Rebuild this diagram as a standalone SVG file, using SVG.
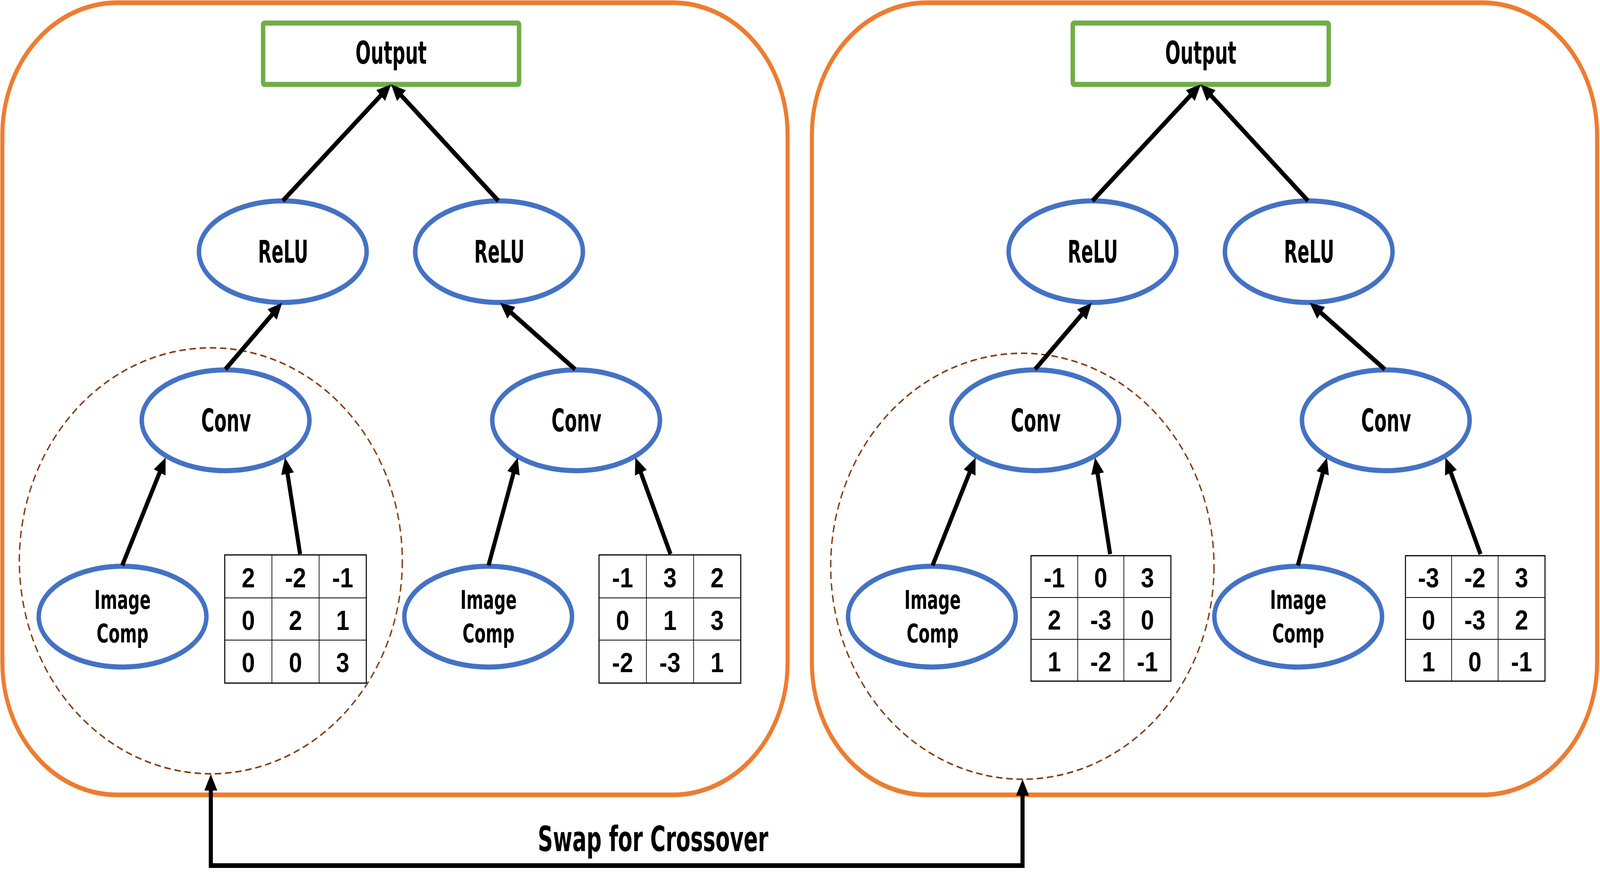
<svg xmlns="http://www.w3.org/2000/svg" width="4713" height="2257" viewBox="0 0 4713 2257" preserveAspectRatio="none" style="width:100vw;height:100vh;display:block">
<style>
.panel{fill:none;stroke:#ED7D31;stroke-width:12}
.group{fill:none;stroke:#843C0C;stroke-width:4;stroke-dasharray:19 11}
.out{fill:#fff;stroke:#70AD47;stroke-width:13}
.op{fill:#fff;stroke:#4472C4;stroke-width:13}
.cell{fill:#fff;stroke:#000;stroke-width:3}
.grid{stroke:#000;stroke-width:2}
.lbl{font-family:"DejaVu Sans Condensed","Liberation Sans Narrow","DejaVu Sans",sans-serif;font-weight:bold;font-size:80px;text-anchor:middle;fill:#000}
.small{font-size:66px}
.num{font-family:"Liberation Sans",Arial,sans-serif;font-weight:bold;font-size:70px;text-anchor:middle;fill:#000}
.edge{fill:none;stroke:#000;stroke-width:12;marker-end:url(#ah)}
</style>
<defs>
<marker id="ah" markerUnits="userSpaceOnUse" markerWidth="44" markerHeight="40" refX="10" refY="19" orient="auto-start-reverse">
<path d="M0,0 L42,19 L0,38 Z" fill="#000"/>
</marker>
</defs>
<rect width="4713" height="2257" fill="#fff"/>
<g id="panel-left">
<rect class="panel" x="7" y="7" width="2313" height="2027" rx="338" ry="338"/>
<ellipse id="crossover-region-left" class="group" cx="621" cy="1435" rx="564" ry="545"/>
</g>
<g id="panel-right">
<rect class="panel" x="2391.5" y="7" width="2313" height="2027" rx="338" ry="338"/>
<ellipse id="crossover-region-right" class="group" cx="3011.5" cy="1449" rx="564.5" ry="545"/>
</g>
<g id="output-L"><rect class="out" x="775" y="59" width="754" height="157" rx="4"/><text class="lbl" x="1152" y="163" textLength="210" lengthAdjust="spacingAndGlyphs">Output</text></g>
<g id="relu-L1"><ellipse class="op" cx="833" cy="644" rx="247" ry="130"/><text class="lbl" x="834" y="672" textLength="148" lengthAdjust="spacingAndGlyphs">ReLU</text></g>
<g id="relu-L2"><ellipse class="op" cx="1470" cy="644" rx="247" ry="130"/><text class="lbl" x="1471" y="672" textLength="148" lengthAdjust="spacingAndGlyphs">ReLU</text></g>
<g id="conv-L1"><ellipse class="op" cx="664.5" cy="1075.5" rx="247" ry="129"/><text class="lbl" x="666" y="1104" textLength="147" lengthAdjust="spacingAndGlyphs">Conv</text></g>
<g id="conv-L2"><ellipse class="op" cx="1697" cy="1075.5" rx="247" ry="129"/><text class="lbl" x="1698" y="1104" textLength="147" lengthAdjust="spacingAndGlyphs">Conv</text></g>
<g id="img-L1"><ellipse class="op" cx="361" cy="1578" rx="247" ry="129"/><text class="lbl small" x="361" y="1558" textLength="166" lengthAdjust="spacingAndGlyphs">Image</text><text class="lbl small" x="361" y="1644" textLength="153" lengthAdjust="spacingAndGlyphs">Comp</text></g>
<g id="img-L2"><ellipse class="op" cx="1438" cy="1578" rx="247" ry="129"/><text class="lbl small" x="1439" y="1558" textLength="166" lengthAdjust="spacingAndGlyphs">Image</text><text class="lbl small" x="1439" y="1644" textLength="153" lengthAdjust="spacingAndGlyphs">Comp</text></g>
<g id="kernel-L1">
<rect class="cell" x="662" y="1420" width="417" height="328"/>
<path class="grid" d="M801,1420V1748M940,1420V1748M662,1530H1079M662,1638H1079"/>
<text class="num" x="731.5" y="1503">2</text><text class="num" x="870.5" y="1503">-2</text><text class="num" x="1009.5" y="1503">-1</text>
<text class="num" x="731.5" y="1612">0</text><text class="num" x="870.5" y="1612">2</text><text class="num" x="1009.5" y="1612">1</text>
<text class="num" x="731.5" y="1720">0</text><text class="num" x="870.5" y="1720">0</text><text class="num" x="1009.5" y="1720">3</text>
</g>
<g id="kernel-L2">
<rect class="cell" x="1764.5" y="1420" width="417.5" height="328"/>
<path class="grid" d="M1904,1420V1748M2043,1420V1748M1764.5,1530H2182M1764.5,1638H2182"/>
<text class="num" x="1834" y="1503">-1</text><text class="num" x="1973.5" y="1503">3</text><text class="num" x="2112.5" y="1503">2</text>
<text class="num" x="1834" y="1612">0</text><text class="num" x="1973.5" y="1612">1</text><text class="num" x="2112.5" y="1612">3</text>
<text class="num" x="1834" y="1720">-2</text><text class="num" x="1973.5" y="1720">-3</text><text class="num" x="2112.5" y="1720">1</text>
</g>
<g id="output-R"><rect class="out" x="3160" y="59" width="754" height="157" rx="4"/><text class="lbl" x="3537" y="163" textLength="210" lengthAdjust="spacingAndGlyphs">Output</text></g>
<g id="relu-R1"><ellipse class="op" cx="3218" cy="644" rx="247" ry="130"/><text class="lbl" x="3219" y="672" textLength="148" lengthAdjust="spacingAndGlyphs">ReLU</text></g>
<g id="relu-R2"><ellipse class="op" cx="3855" cy="644" rx="247" ry="130"/><text class="lbl" x="3856" y="672" textLength="148" lengthAdjust="spacingAndGlyphs">ReLU</text></g>
<g id="conv-R1"><ellipse class="op" cx="3049.5" cy="1075.5" rx="247" ry="129"/><text class="lbl" x="3051" y="1104" textLength="147" lengthAdjust="spacingAndGlyphs">Conv</text></g>
<g id="conv-R2"><ellipse class="op" cx="4082" cy="1075.5" rx="247" ry="129"/><text class="lbl" x="4083" y="1104" textLength="147" lengthAdjust="spacingAndGlyphs">Conv</text></g>
<g id="img-R1"><ellipse class="op" cx="2745" cy="1578" rx="247" ry="129"/><text class="lbl small" x="2747" y="1558" textLength="166" lengthAdjust="spacingAndGlyphs">Image</text><text class="lbl small" x="2747" y="1644" textLength="153" lengthAdjust="spacingAndGlyphs">Comp</text></g>
<g id="img-R2"><ellipse class="op" cx="3824" cy="1578" rx="247" ry="129"/><text class="lbl small" x="3824" y="1558" textLength="166" lengthAdjust="spacingAndGlyphs">Image</text><text class="lbl small" x="3824" y="1644" textLength="153" lengthAdjust="spacingAndGlyphs">Comp</text></g>
<g id="kernel-R1">
<rect class="cell" x="3037" y="1422" width="412" height="321"/>
<path class="grid" d="M3174.5,1422V1743M3310.5,1422V1743M3037,1529H3449M3037,1636H3449"/>
<text class="num" x="3105.7" y="1503">-1</text><text class="num" x="3242.5" y="1503">0</text><text class="num" x="3379.8" y="1503">3</text>
<text class="num" x="3105.7" y="1611">2</text><text class="num" x="3242.5" y="1611">-3</text><text class="num" x="3379.8" y="1611">0</text>
<text class="num" x="3105.7" y="1718">1</text><text class="num" x="3242.5" y="1718">-2</text><text class="num" x="3379.8" y="1718">-1</text>
</g>
<g id="kernel-R2">
<rect class="cell" x="4140" y="1422" width="411" height="321"/>
<path class="grid" d="M4276,1422V1743M4413,1422V1743M4140,1529H4551M4140,1636H4551"/>
<text class="num" x="4208" y="1503">-3</text><text class="num" x="4344.5" y="1503">-2</text><text class="num" x="4482" y="1503">3</text>
<text class="num" x="4208" y="1611">0</text><text class="num" x="4344.5" y="1611">-3</text><text class="num" x="4482" y="1611">2</text>
<text class="num" x="4208" y="1718">1</text><text class="num" x="4344.5" y="1718">0</text><text class="num" x="4482" y="1718">-1</text>
</g>
<g id="connectors">
<path class="edge" d="M833,514L1128.6,237.8"/>
<path class="edge" d="M1468,514L1175.3,238"/>
<path class="edge" d="M664,945L808.6,797.8"/>
<path class="edge" d="M1694,945L1498.4,794.5"/>
<path class="edge" d="M360,1447L474.5,1200"/>
<path class="edge" d="M884,1418L845.2,1202.5"/>
<path class="edge" d="M1439,1447L1515.5,1201.6"/>
<path class="edge" d="M1975,1418L1883.9,1200.5"/>
<path class="edge" d="M3218,514L3513.6,237.8"/>
<path class="edge" d="M3853,514L3560.3,238"/>
<path class="edge" d="M3049,945L3193.6,797.8"/>
<path class="edge" d="M4079,945L3883.4,794.5"/>
<path class="edge" d="M2747,1447L2860.3,1200.1"/>
<path class="edge" d="M3270,1418L3231.3,1202.5"/>
<path class="edge" d="M3823,1447L3899.2,1201.6"/>
<path class="edge" d="M4361,1418L4270,1200.5"/>
<path class="edge" d="M621,2013V2215H3012V2026" style="marker-start:url(#ah)"/>
</g>
<text id="swap-label" class="lbl" x="1923.5" y="2178" style="font-size:89px" textLength="679" lengthAdjust="spacingAndGlyphs">Swap for Crossover</text>
</svg>
